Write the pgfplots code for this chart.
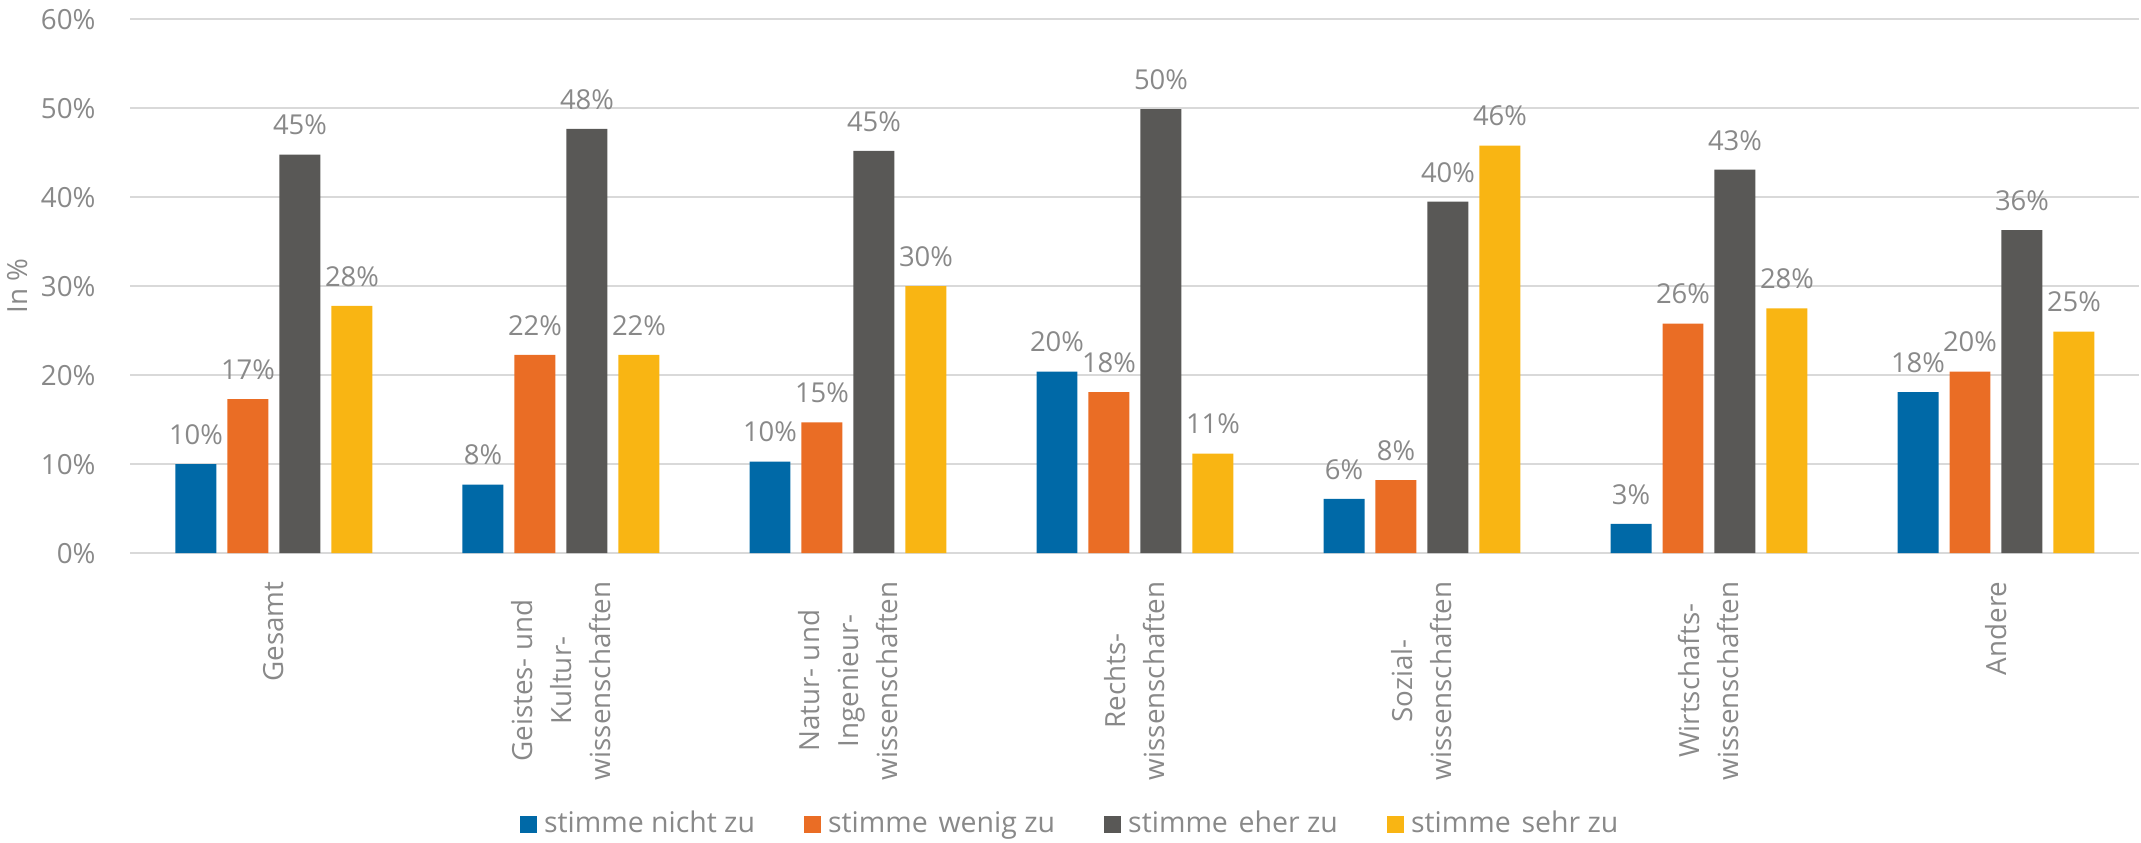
\documentclass[border=0pt]{standalone}
\usepackage{fontspec}
\setmainfont{Open Sans}
\usepackage{pgfplots}
\pgfplotsset{compat=1.18}

\definecolor{cBlue}{HTML}{0069A7}
\definecolor{cOrange}{HTML}{EA6D25}
\definecolor{cGray}{HTML}{595856}
\definecolor{cYellow}{HTML}{F9B513}
\definecolor{cText}{HTML}{898989}
\definecolor{cGrid}{HTML}{D9D9D9}

\begin{document}
\begin{tikzpicture}
% frame of the whole picture, the axis box sits with its lower left corner at the origin
\useasboundingbox (-13.05mm,-28.97mm) rectangle (201.1mm,55.33mm);
\begin{axis}[
    at={(0,0)}, anchor=south west,
    scale only axis,
    width=200.95mm, height=53.4mm,
    ybar=1.1mm, bar width=4.1mm,
    xmin=-0.5, xmax=6.5,
    ymin=0, ymax=60,
    xtick=data,
    xticklabels={Gesamt, {Geistes- und\\Kultur-\\wissenschaften}, {Natur- und\\Ingenieur-\\wissenschaften}, {Rechts-\\wissenschaften}, {Sozial-\\wissenschaften}, {Wirtschafts-\\wissenschaften}, Andere},
    ytick={0,10,...,60},
    yticklabel={\pgfmathprintnumber{\tick}\%},
    /pgf/number format/assume math mode=true,
    major tick length=0pt,
    axis line style={draw=none},
    ymajorgrids, major grid style={cGrid, line width=0.6pt},
    tick label style={font=\fontsize{7.9}{11.1}\selectfont, text=cText},
    xticklabel style={rotate=90, anchor=east, align=center},
    xticklabel shift=1.6mm,
    yticklabel style={xshift=-2.25mm},
    ylabel={In \%},
    ylabel style={font=\fontsize{7.9}{10}\selectfont, text=cText, at={(axis description cs:-0.0562,0.5)}, anchor=center},
    nodes near coords={\pgfmathprintnumber[fixed,precision=0]{\pgfplotspointmeta}\%},
    every node near coord/.append style={font=\fontsize{7.8}{10}\selectfont, text=cText, yshift=0.7mm},
    legend style={draw=none, at={(0.469,-0.508)}, anchor=center, legend columns=-1,
        font=\fontsize{8.1}{10}\selectfont, text=cText,
        /tikz/every even column/.append style={column sep=4.2mm}},
    legend image code/.code={\fill[#1] (0mm,-0.85mm) rectangle (1.7mm,0.85mm);},
]
\addplot[fill=cBlue, draw=none] coordinates {(0,10.0) (1,7.7) (2,10.3) (3,20.4) (4,6.1) (5,3.3) (6,18.1)};
\addplot[fill=cOrange, draw=none] coordinates {(0,17.3) (1,22.3) (2,14.7) (3,18.1) (4,8.2) (5,25.8) (6,20.4)};
\addplot[fill=cGray, draw=none] coordinates {(0,44.8) (1,47.7) (2,45.2) (3,49.9) (4,39.5) (5,43.1) (6,36.3)};
\addplot[fill=cYellow, draw=none] coordinates {(0,27.8) (1,22.3) (2,30.0) (3,11.2) (4,45.8) (5,27.5) (6,24.9)};
\legend{stimme nicht zu, stimme\hspace{0.12em} wenig zu, stimme\hspace{0.12em} eher zu, stimme\hspace{0.12em} sehr zu}
\end{axis}
\end{tikzpicture}
\end{document}
